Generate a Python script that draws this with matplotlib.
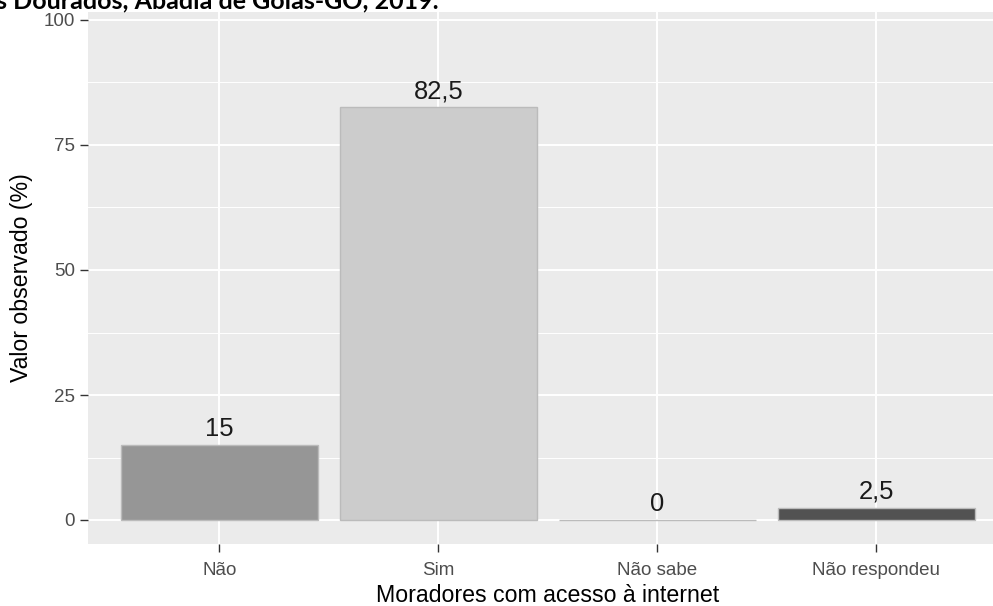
import matplotlib
matplotlib.use("Agg")
import matplotlib.pyplot as plt
from matplotlib.ticker import MultipleLocator

# dados
categorias = ["Não", "Sim", "Não sabe", "Não respondeu"]
valores = [15, 82.5, 0, 2.5]
rotulos = ["15", "82,5", "0", "2,5"]
cores = ["#969696", "#cccccc", "#e0e0e0", "#525252"]
titulo = "s Dourados, Abadia de Goiás-GO, 2019."

plt.rcParams["font.family"] = ["Liberation Sans", "DejaVu Sans"]

W, H = 993, 606
fig = plt.figure(figsize=(W / 100, H / 100), dpi=100)
ax = fig.add_axes([88 / W, 62 / H, (W - 88) / W, 532 / H])
ax.set_facecolor("#ebebeb")

x = list(range(len(categorias)))
ax.bar(x, valores, width=0.9, color=cores, edgecolor="#bbbbbb", linewidth=1, zorder=3)

for xi, v, r in zip(x, valores, rotulos):
	ax.annotate(r, (xi, v), xytext=(0, 6.5), textcoords="offset points",
				ha="center", va="baseline", fontsize=18.4, color="#1a1a1a", zorder=4)

ax.set_xlim(-0.6, -0.6 + (W - 88) / 219)
ax.set_ylim(-4.8, 101.6)
ax.set_xticks(x)
ax.set_xticklabels(categorias)
ax.yaxis.set_major_locator(MultipleLocator(25))
ax.yaxis.set_minor_locator(MultipleLocator(12.5))

ax.grid(which="major", color="white", linewidth=1.4, zorder=0)
ax.grid(which="minor", axis="y", color="white", linewidth=0.7, zorder=0)
ax.set_axisbelow(True)
for s in ax.spines.values():
	s.set_visible(False)

ax.tick_params(axis="both", which="major", length=5.5, width=1, color="#333333",
			   labelsize=13.5, labelcolor="#4d4d4d", pad=4)
ax.tick_params(axis="x", which="major", pad=7.5)
ax.tick_params(axis="y", which="minor", length=0)

fig.text(547.5 / W, 4 / H, "Moradores com acesso à internet", ha="center", va="baseline",
		 fontsize=16.7, color="black")
fig.text(22 / W, 328 / H, "Valor observado (%)", ha="center", va="center", rotation=90,
		 fontsize=16.7, color="black")
fig.text(-4 / W, 1 - 8 / H, titulo, ha="left", va="baseline", fontsize=18,
		 fontweight="bold", family="Lato", color="black")

fig.savefig("out.png", dpi=100)
